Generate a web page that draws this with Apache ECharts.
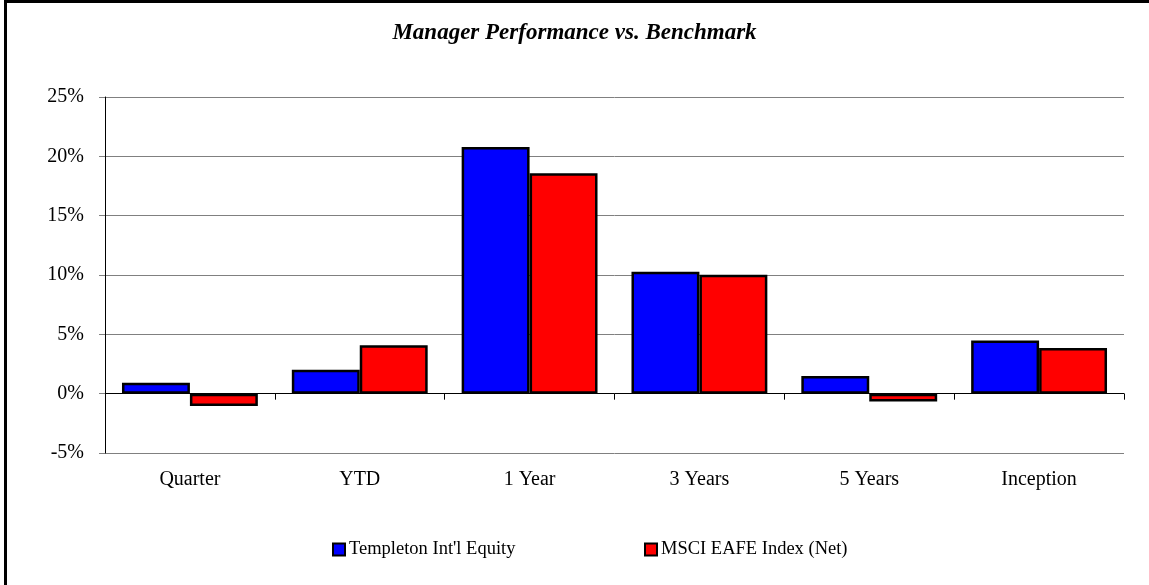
<!DOCTYPE html>
<html>
<head>
<meta charset="utf-8">
<script src="https://cdn.jsdelivr.net/npm/echarts@6/dist/echarts.min.js"></script>
<style>
html,body{margin:0;padding:0;background:#fff;}
#chart{width:1149px;height:585px;}
</style>
</head>
<body>
<div id="chart"></div>
<script>
const categories = ['Quarter', 'YTD', '1 Year', '3 Years', '5 Years', 'Inception'];
const managerName = "Templeton Int'l Equity";
const benchmarkName = 'MSCI EAFE Index (Net)';
const managerValues = [0.93, 2.02, 20.78, 10.27, 1.49, 4.49];
const benchmarkValues = [-1.04, 4.07, 18.57, 10.03, -0.67, 3.85];
const yTicks = { min: -5, max: 25, interval: 5 };
const titleText = 'Manager Performance vs. Benchmark';

const FONT = "'Liberation Serif', 'Times New Roman', serif";
const chart = echarts.init(document.getElementById('chart'), null, { renderer: 'canvas' });

chart.setOption({
  animation: false,
  backgroundColor: '#ffffff',
  textStyle: { fontFamily: FONT, color: '#000' },
  title: {
    text: titleText,
    left: 'center',
    top: 17,
    textStyle: { fontFamily: FONT, fontSize: 23, fontWeight: 'bold', fontStyle: 'italic', color: '#000' }
  },
  graphic: [{
    type: 'rect',
    shape: { x: 5.5, y: 1.5, width: 3000, height: 3000 },
    style: { fill: 'none', stroke: '#000', lineWidth: 3 },
    silent: true,
    z: 100
  }],
  legend: [{
    data: [managerName],
    left: 332,
    top: 540,
    padding: 0,
    itemWidth: 12,
    itemHeight: 12,
    icon: 'rect',
    textStyle: { fontFamily: FONT, fontSize: 18.5, color: '#000', padding: [0, 0, 0, -1] }
  }, {
    data: [benchmarkName],
    left: 644,
    top: 540,
    padding: 0,
    itemWidth: 12,
    itemHeight: 12,
    icon: 'rect',
    textStyle: { fontFamily: FONT, fontSize: 18.5, color: '#000', padding: [0, 0, 0, -1] }
  }],
  grid: { left: 105, right: 25, top: 97, bottom: 132, containLabel: false },
  xAxis: [{
    type: 'category',
    data: categories,
    boundaryGap: true,
    axisLine: { onZero: true, lineStyle: { color: '#000', width: 1 } },
    axisTick: { show: true, inside: false, length: 6, alignWithLabel: false, lineStyle: { color: '#000' } },
    axisLabel: { show: false },
    splitLine: { show: false }
  }, {
    type: 'category',
    data: categories,
    position: 'bottom',
    boundaryGap: true,
    axisLine: { show: false, onZero: false },
    axisTick: { show: false },
    axisLabel: { show: true, margin: 17, fontFamily: FONT, fontSize: 20, color: '#000' },
    splitLine: { show: false }
  }],
  yAxis: {
    type: 'value',
    min: yTicks.min,
    max: yTicks.max,
    interval: yTicks.interval,
    axisLine: { show: true, lineStyle: { color: '#000', width: 1 } },
    axisTick: { show: true, inside: false, length: 6, lineStyle: { color: '#808080' } },
    axisLabel: {
      margin: 21,
      fontFamily: FONT,
      fontSize: 20,
      color: '#000',
      formatter: v => v + '%'
    },
    splitLine: { show: true, lineStyle: { color: '#808080', width: 1 } }
  },
  series: [{
    name: managerName,
    type: 'bar',
    xAxisIndex: 0,
    data: managerValues,
    barGap: '0%',
    barCategoryGap: '20%',
    itemStyle: { color: '#0000ff', borderColor: '#000', borderWidth: 2.5 },
    z: 3
  }, {
    name: benchmarkName,
    type: 'bar',
    xAxisIndex: 0,
    data: benchmarkValues,
    barGap: '0%',
    barCategoryGap: '20%',
    itemStyle: { color: '#ff0000', borderColor: '#000', borderWidth: 2.5 },
    z: 3
  }]
});
</script>
</body>
</html>
